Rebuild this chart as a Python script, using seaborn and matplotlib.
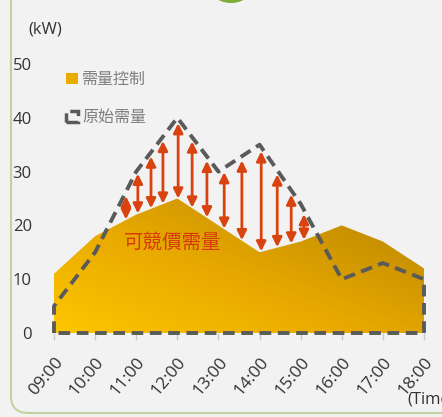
import numpy as np
import pandas as pd
import seaborn as sns
import matplotlib.pyplot as plt
from matplotlib.colors import LinearSegmentedColormap
from matplotlib.patches import Patch, FancyBboxPatch, Ellipse

# data
hours = ["09:00", "10:00", "11:00", "12:00", "13:00", "14:00", "15:00", "16:00", "17:00", "18:00"]
controlled = [11, 18, 22, 25, 20, 15, 17, 20, 17, 12]      # 需量控制
original = [5, 15, 30, 40, 30, 35, 24, 10, 13, 10]         # 原始需量
arrow_pos = [1.75, 2.04, 2.36, 2.65, 3.02, 3.36, 3.72, 4.14, 4.57, 5.04, 5.43, 5.77, 6.08]
yticks = [0, 10, 20, 30, 40, 50]

sns.set_theme(style="white")
plt.rcParams["font.family"] = ["Open Sans", "Noto Sans CJK TC", "DejaVu Sans"]

W, H = 442, 417
BG = "#f2f2f2"
ARROW = "#d9430f"
DASH = "#5a5a5a"

fig = plt.figure(figsize=(W / 100, H / 100), dpi=100, facecolor=BG)

# rounded panel border and green blob at the top
fig.patches.append(FancyBboxPatch((11 / W, 4 / H), 1.2, 1.2, boxstyle="round,pad=0,rounding_size=0.04",
                                  transform=fig.transFigure, facecolor=BG, edgecolor="#c3d3a0",
                                  linewidth=1.5, zorder=-10))
fig.patches.append(Ellipse((231 / W, 1 + 25 / H), 56 / W, 56 / H, transform=fig.transFigure,
                           facecolor="#7fad3c", edgecolor="none", zorder=10))

ax = fig.add_axes([54 / W, (H - 333) / H, 370 / W, (333 - 64) / H])
ax.set_facecolor("none")

x = np.arange(len(hours))

# gold area with diagonal gradient
poly = ax.fill_between(x, controlled, color="none", lw=0)
path = poly.get_paths()[0]
gx, gy = np.meshgrid(np.linspace(0, 9, 300), np.linspace(0, 26, 200))
t = np.clip(0.6 * gx / 9 + 0.55 * gy / 25, 0, 1)
cmap = LinearSegmentedColormap.from_list("gold", ["#fdc600", "#e8aa00", "#c28b00"])
im = ax.imshow(t, extent=[0, 9, 0, 26], origin="lower", aspect="auto", cmap=cmap, zorder=1,
               interpolation="bilinear")
im.set_clip_path(path, transform=ax.transData)

# original demand as a closed dashed outline
outline = pd.DataFrame({
    "x": np.concatenate([[0], x, [x[-1], 0]]),
    "y": np.concatenate([[0], original, [0, 0]]),
})
sns.lineplot(data=outline, x="x", y="y", sort=False, estimator=None, ax=ax, color=DASH,
             lw=2.8, zorder=3, clip_on=False)
ax.lines[-1].set_dashes([3.0, 1.7])

# arrows between the two series
top = np.interp(arrow_pos, x, original) - 0.8
bot = np.interp(arrow_pos, x, controlled) + 0.1
for xp, y0, y1 in zip(arrow_pos, bot, top):
    ax.annotate("", xy=(xp, y1), xytext=(xp, y0),
                arrowprops=dict(arrowstyle="<|-|>", color=ARROW, lw=2, mutation_scale=14,
                                shrinkA=0, shrinkB=0), zorder=4)

ax.text(1.7, 16.9, "可競價需量", color="#d63a0a", fontsize=14, va="center", ha="left", zorder=5)

ax.set_xlim(0, 9)
ax.set_ylim(0, 50)
ax.set_xticks(x)
ax.set_xticklabels(hours, rotation=50, ha="right", rotation_mode="anchor", fontsize=12.5, color="#333333")
ax.set_yticks(yticks)
ax.set_yticklabels([str(v) for v in yticks], fontsize=12, color="#333333")
ax.tick_params(axis="x", length=5, color="#c8c8c8", width=1, pad=10, bottom=True)
ax.tick_params(axis="y", length=0, pad=16)
for s in ax.spines.values():
    s.set_visible(False)
ax.set_xlabel("")
ax.set_ylabel("")

fig.text(28 / W, 1 - 30 / H, "(kW)", fontsize=12, color="#333333", va="center", ha="left")
fig.text(407 / W, 1 - 399 / H, "(Time)", fontsize=12, color="#333333", va="center", ha="left")

handles = [Patch(facecolor="#e8ab00", edgecolor="none"),
           Patch(facecolor="none", edgecolor=DASH, linestyle="--", linewidth=2.5)]
ax.legend(handles, ["需量控制", "原始需量"], loc="upper left", bbox_to_anchor=(60 / W, 1 - 66 / H),
          bbox_transform=fig.transFigure, frameon=False, fontsize=11.5, labelcolor="#7f7f7f",
          handlelength=0.7, handleheight=0.7, handletextpad=0.3, labelspacing=1.35, borderaxespad=0)

fig.savefig("out.png", dpi=100, facecolor=BG)
